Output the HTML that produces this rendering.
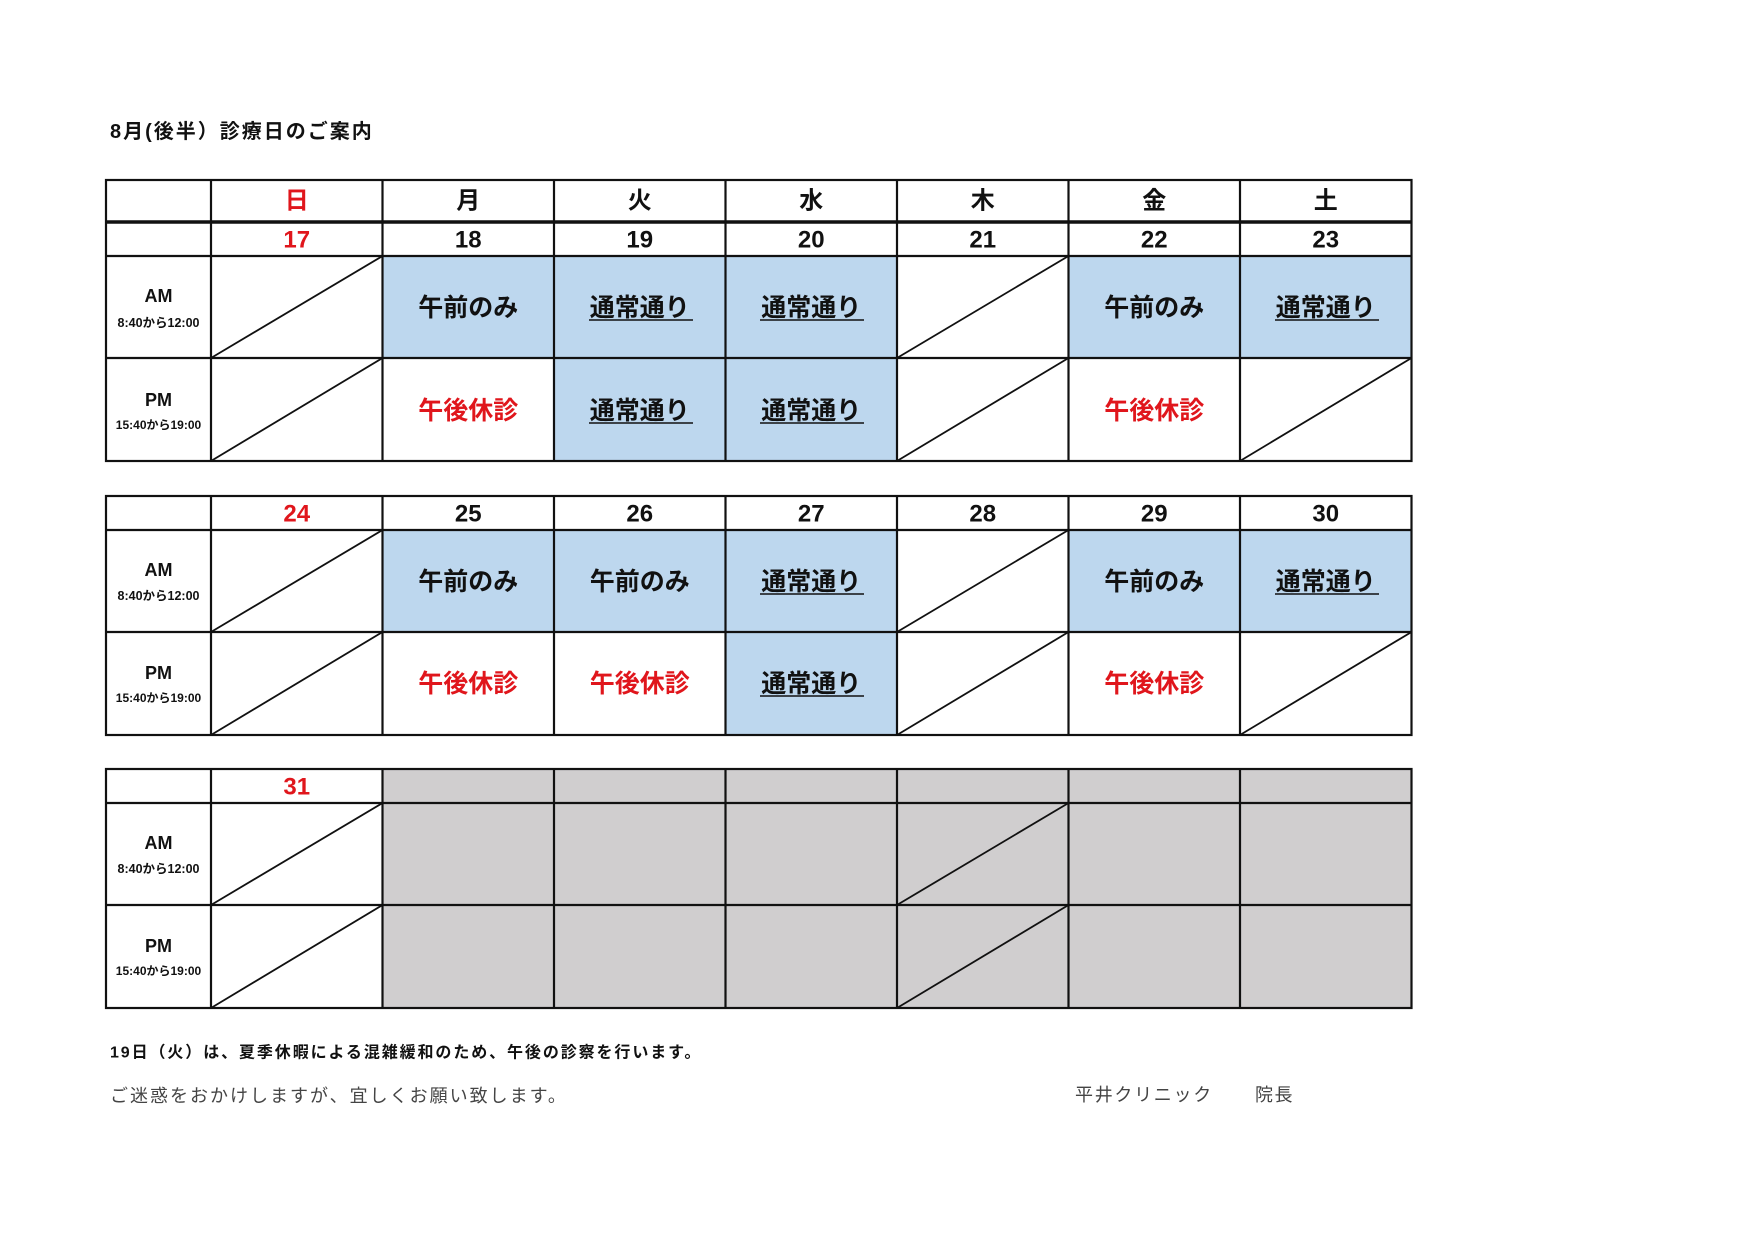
<!DOCTYPE html>
<html><head><meta charset="utf-8"><style>
html,body{margin:0;padding:0;background:#fff;}
svg text{font-family:"Liberation Sans","Noto Sans CJK JP",sans-serif;}
.b{font-weight:bold;}
</style></head><body>
<svg width="1755" height="1241" viewBox="0 0 1755 1241" xmlns="http://www.w3.org/2000/svg">
<rect width="1755" height="1241" fill="#fff"/>
<text x="110" y="132" class="b" font-size="20" letter-spacing="2" dominant-baseline="central" fill="#111">8月(後半）診療日のご案内</text>

<g fill="#bdd7ee">
<rect x="382.5" y="256" width="171.5" height="102"/>
<rect x="554" y="256" width="171.5" height="205"/>
<rect x="725.5" y="256" width="171.5" height="205"/>
<rect x="1068.5" y="256" width="171.5" height="102"/>
<rect x="1240" y="256" width="171.5" height="102"/>
<rect x="382.5" y="530" width="171.5" height="102"/>
<rect x="554" y="530" width="171.5" height="102"/>
<rect x="725.5" y="530" width="171.5" height="205"/>
<rect x="1068.5" y="530" width="171.5" height="102"/>
<rect x="1240" y="530" width="171.5" height="102"/>
</g>
<rect x="382.5" y="769" width="1029" height="239" fill="#d0cecf"/>

<g stroke="#111" stroke-width="2.2" fill="none">
<rect x="106" y="180" width="1305.5" height="281"/>
<line x1="106" y1="222" x2="1411.5" y2="222" stroke-width="3.5"/>
<line x1="106" y1="256" x2="1411.5" y2="256"/>
<line x1="106" y1="358" x2="1411.5" y2="358"/>
<rect x="106" y="496" width="1305.5" height="239"/>
<line x1="106" y1="530" x2="1411.5" y2="530"/>
<line x1="106" y1="632" x2="1411.5" y2="632"/>
<rect x="106" y="769" width="1305.5" height="239"/>
<line x1="106" y1="803" x2="1411.5" y2="803"/>
<line x1="106" y1="905" x2="1411.5" y2="905"/>
<path d="M211 180V461M382.5 180V461M554 180V461M725.5 180V461M897 180V461M1068.5 180V461M1240 180V461"/>
<path d="M211 496V735M382.5 496V735M554 496V735M725.5 496V735M897 496V735M1068.5 496V735M1240 496V735"/>
<path d="M211 769V1008M382.5 769V1008M554 769V1008M725.5 769V1008M897 769V1008M1068.5 769V1008M1240 769V1008"/>
</g>
<g stroke="#111" stroke-width="1.8">
<line x1="211" y1="358" x2="382.5" y2="256"/>
<line x1="211" y1="461" x2="382.5" y2="358"/>
<line x1="897" y1="358" x2="1068.5" y2="256"/>
<line x1="897" y1="461" x2="1068.5" y2="358"/>
<line x1="1240" y1="461" x2="1411.5" y2="358"/>
<line x1="211" y1="632" x2="382.5" y2="530"/>
<line x1="211" y1="735" x2="382.5" y2="632"/>
<line x1="897" y1="632" x2="1068.5" y2="530"/>
<line x1="897" y1="735" x2="1068.5" y2="632"/>
<line x1="1240" y1="735" x2="1411.5" y2="632"/>
<line x1="211" y1="905" x2="382.5" y2="803"/>
<line x1="211" y1="1008" x2="382.5" y2="905"/>
<line x1="897" y1="905" x2="1068.5" y2="803"/>
<line x1="897" y1="1008" x2="1068.5" y2="905"/>
</g>

<g class="b" font-size="24" text-anchor="middle" dominant-baseline="central" fill="#111">
<text x="296.75" y="201" fill="#e0161c">日</text>
<text x="468.25" y="201">月</text>
<text x="639.75" y="201">火</text>
<text x="811.25" y="201">水</text>
<text x="982.75" y="201">木</text>
<text x="1154.25" y="201">金</text>
<text x="1325.75" y="201">土</text>
<text x="296.75" y="240" fill="#e0161c">17</text>
<text x="468.25" y="240">18</text>
<text x="639.75" y="240">19</text>
<text x="811.25" y="240">20</text>
<text x="982.75" y="240">21</text>
<text x="1154.25" y="240">22</text>
<text x="1325.75" y="240">23</text>
<text x="296.75" y="514" fill="#e0161c">24</text>
<text x="468.25" y="514">25</text>
<text x="639.75" y="514">26</text>
<text x="811.25" y="514">27</text>
<text x="982.75" y="514">28</text>
<text x="1154.25" y="514">29</text>
<text x="1325.75" y="514">30</text>
<text x="296.75" y="787" fill="#e0161c">31</text>
</g>

<g class="b" font-size="25" text-anchor="middle" dominant-baseline="central" fill="#111">
<text x="468.25" y="308">午前のみ</text>
<text x="639.75" y="308">通常通り</text>
<text x="811.25" y="308">通常通り</text>
<text x="1154.25" y="308">午前のみ</text>
<text x="1325.75" y="308">通常通り</text>
<text x="468.25" y="411" fill="#e0161c">午後休診</text>
<text x="639.75" y="411">通常通り</text>
<text x="811.25" y="411">通常通り</text>
<text x="1154.25" y="411" fill="#e0161c">午後休診</text>
<text x="468.25" y="582">午前のみ</text>
<text x="639.75" y="582">午前のみ</text>
<text x="811.25" y="582">通常通り</text>
<text x="1154.25" y="582">午前のみ</text>
<text x="1325.75" y="582">通常通り</text>
<text x="468.25" y="684" fill="#e0161c">午後休診</text>
<text x="639.75" y="684" fill="#e0161c">午後休診</text>
<text x="811.25" y="684">通常通り</text>
<text x="1154.25" y="684" fill="#e0161c">午後休診</text>
</g>
<g stroke="#111" stroke-width="1.6">
<line x1="589" y1="320" x2="693" y2="320"/>
<line x1="760" y1="320" x2="864" y2="320"/>
<line x1="1275" y1="320" x2="1379" y2="320"/>
<line x1="589" y1="423" x2="693" y2="423"/>
<line x1="760" y1="423" x2="864" y2="423"/>
<line x1="760" y1="594" x2="864" y2="594"/>
<line x1="1275" y1="594" x2="1379" y2="594"/>
<line x1="760" y1="696" x2="864" y2="696"/>
</g>

<g class="b" text-anchor="middle" dominant-baseline="central" fill="#111">
<text x="158.5" y="296" font-size="18">AM</text>
<text x="158.5" y="323" font-size="12.5">8:40から12:00</text>
<text x="158.5" y="400" font-size="18">PM</text>
<text x="158.5" y="425" font-size="12">15:40から19:00</text>
<text x="158.5" y="570" font-size="18">AM</text>
<text x="158.5" y="596" font-size="12.5">8:40から12:00</text>
<text x="158.5" y="673" font-size="18">PM</text>
<text x="158.5" y="698" font-size="12">15:40から19:00</text>
<text x="158.5" y="843" font-size="18">AM</text>
<text x="158.5" y="869" font-size="12.5">8:40から12:00</text>
<text x="158.5" y="946" font-size="18">PM</text>
<text x="158.5" y="971" font-size="12">15:40から19:00</text>
</g>

<text x="110" y="1053" class="b" font-size="16" letter-spacing="1.9" dominant-baseline="central" fill="#111">19日（火）は、夏季休暇による混雑緩和のため、午後の診察を行います。</text>
<text x="110" y="1096" font-size="18" letter-spacing="2" dominant-baseline="central" fill="#444">ご迷惑をおかけしますが、宜しくお願い致します。</text>
<text x="1075" y="1095" font-size="18" letter-spacing="1.7" dominant-baseline="central" fill="#444">平井クリニック</text>
<text x="1255" y="1095" font-size="18" letter-spacing="1.5" dominant-baseline="central" fill="#444">院長</text>
</svg>
</body></html>
